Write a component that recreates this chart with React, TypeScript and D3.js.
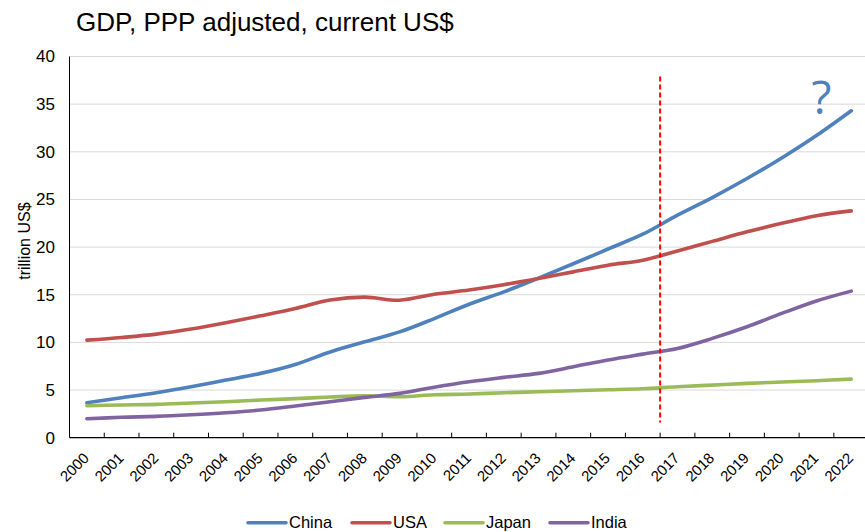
import React from "react";
import * as d3 from "d3";

const years = ["2000","2001","2002","2003","2004","2005","2006","2007","2008","2009","2010","2011","2012","2013","2014","2015","2016","2017","2018","2019","2020","2021","2022"];
const china = [3.67,4.19,4.72,5.35,6.05,6.75,7.69,9.0,10.06,11.1,12.5,14.0,15.3,16.75,18.25,19.8,21.35,23.35,25.2,27.2,29.35,31.7,34.3];
const usa = [10.24,10.52,10.87,11.4,12.06,12.79,13.56,14.45,14.75,14.43,15.05,15.5,16.05,16.7,17.4,18.1,18.63,19.6,20.6,21.6,22.5,23.3,23.8];
const japan = [3.36,3.43,3.5,3.64,3.78,3.95,4.1,4.27,4.4,4.3,4.5,4.58,4.72,4.82,4.93,5.03,5.14,5.35,5.52,5.7,5.84,5.98,6.15];
const india = [1.99,2.14,2.24,2.41,2.62,2.9,3.32,3.77,4.23,4.65,5.3,5.87,6.33,6.75,7.44,8.15,8.77,9.37,10.42,11.64,13.04,14.35,15.38];
const seriesNames = ["China","USA","Japan","India"];
const seriesValues = [china, usa, japan, india];
const colors = ["#4F81BD","#C0504D","#9BBB59","#8064A2"];
const yTicks = [0,5,10,15,20,25,30,35,40];
const markerYear = 16.5;

const W = 865, H = 532;
const left = 69.5, right = 868.6, top = 56.5, bottom = 437.7;
const font = "'Liberation Sans', Arial, sans-serif";

export default function App() {
  const x = d3.scaleBand<string>().domain(years).range([left, right]).padding(0);
  const xi = d3.scaleLinear().domain([0, years.length]).range([left, right]);
  const y = d3.scaleLinear().domain([0, 40]).range([bottom, top]);
  const line = d3.line<number>()
    .x((_, i) => (x(years[i]) as number) + x.bandwidth() / 2)
    .y((d) => y(d))
    .curve(d3.curveCatmullRom.alpha(0.5));
  const legendX = [248, 352, 445, 550];
  return (
    <svg width={W} height={H} style={{ position: "absolute", left: 0, top: 0, background: "#fff" }} fontFamily={font}>
      <rect x={0} y={0} width={W} height={H} fill="#fff" />
      <text x={76} y={31} fontSize={26} fill="#000">GDP, PPP adjusted, current US$</text>
      {yTicks.map((t) => (
        <g key={t}>
          {t > 0 && <line x1={left} x2={W} y1={y(t)} y2={y(t)} stroke="#d9d9d9" strokeWidth={1} />}
          <text x={55} y={y(t)} dy="0.35em" textAnchor="end" fontSize={17} fill="#000">{t}</text>
        </g>
      ))}
      <text transform={`translate(24,${(top + bottom) / 2 - 6}) rotate(-90)`} textAnchor="middle" dy="0.35em" fontSize={16} fill="#000">trillion US$</text>
      {seriesValues.map((vals, k) => (
        <path key={k} d={line(vals) as string} fill="none" stroke={colors[k]} strokeWidth={3.6} strokeLinecap="round" strokeLinejoin="round" />
      ))}
      <line x1={xi(markerYear + 0.5)} x2={xi(markerYear + 0.5)} y1={76.5} y2={422.5} stroke="#FF0000" strokeWidth={2} strokeDasharray="5,3" />
      <line x1={left} x2={left} y1={top} y2={bottom} stroke="#000" strokeWidth={1} />
      <line x1={left} x2={W} y1={bottom} y2={bottom} stroke="#000" strokeWidth={1.3} />
      {years.map((yr, i) => (
        <g key={yr}>
          {i > 0 && <line x1={xi(i)} x2={xi(i)} y1={bottom - 5} y2={bottom} stroke="#000" strokeWidth={1} />}
          <text transform={`translate(${(x(yr) as number) + x.bandwidth() / 2 + 3},${459}) rotate(-45)`} textAnchor="end" fontSize={15} fill="#000">{yr}</text>
        </g>
      ))}
      <text x={821.5} y={114} textAnchor="middle" fontSize={46} fill="#4F81BD" fontFamily="'Open Sans', sans-serif">?</text>
      {seriesNames.map((n, k) => (
        <g key={n}>
          <line x1={legendX[k]} x2={legendX[k] + 38} y1={522.7} y2={522.7} stroke={colors[k]} strokeWidth={3.6} strokeLinecap="round" />
          <text x={legendX[k] + 41} y={522.7} dy="0.35em" fontSize={16.5} fill="#000">{n}</text>
        </g>
      ))}
    </svg>
  );
}
